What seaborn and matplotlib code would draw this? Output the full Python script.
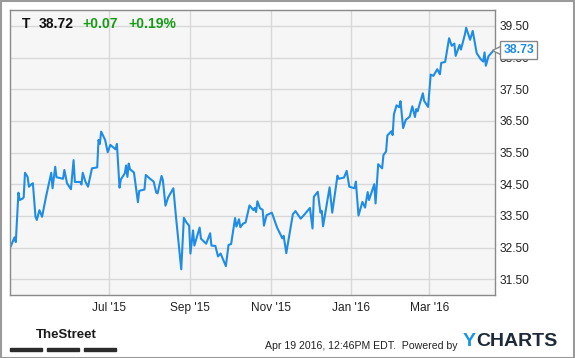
import matplotlib
matplotlib.use("Agg")
import matplotlib.pyplot as plt
from matplotlib.patches import Rectangle
from matplotlib.transforms import blended_transform_factory
import pandas as pd
import seaborn as sns

# ---------------- data ----------------
dates = [
    "2015-04-17", "2015-04-20", "2015-04-21", "2015-04-23", "2015-04-24", "2015-04-26",
    "2015-04-27", "2015-04-28", "2015-04-30", "2015-05-01", "2015-05-03", "2015-05-04",
    "2015-05-06", "2015-05-07", "2015-05-09", "2015-05-11", "2015-05-14", "2015-05-18",
    "2015-05-19", "2015-05-21", "2015-05-22", "2015-05-27", "2015-05-28", "2015-05-30",
    "2015-06-02", "2015-06-04", "2015-06-05", "2015-06-09", "2015-06-10", "2015-06-11",
    "2015-06-13", "2015-06-15", "2015-06-18", "2015-06-22", "2015-06-23", "2015-06-24",
    "2015-06-25", "2015-06-28", "2015-06-30", "2015-07-02", "2015-07-06", "2015-07-07",
    "2015-07-09", "2015-07-10", "2015-07-13", "2015-07-14", "2015-07-15", "2015-07-16",
    "2015-07-17", "2015-07-20", "2015-07-23", "2015-07-24", "2015-07-28", "2015-07-29",
    "2015-08-01", "2015-08-04", "2015-08-06", "2015-08-07", "2015-08-10", "2015-08-11",
    "2015-08-13", "2015-08-15", "2015-08-19", "2015-08-21", "2015-08-25", "2015-08-27",
    "2015-08-29", "2015-08-31", "2015-09-01", "2015-09-03", "2015-09-04", "2015-09-08",
    "2015-09-09", "2015-09-13", "2015-09-16", "2015-09-17", "2015-09-20", "2015-09-22",
    "2015-09-24", "2015-09-28", "2015-09-30", "2015-10-02", "2015-10-05", "2015-10-06",
    "2015-10-08", "2015-10-09", "2015-10-11", "2015-10-13", "2015-10-16", "2015-10-19",
    "2015-10-20", "2015-10-21", "2015-10-22", "2015-10-24", "2015-10-26", "2015-10-27",
    "2015-10-29", "2015-11-02", "2015-11-06", "2015-11-10", "2015-11-11", "2015-11-13",
    "2015-11-18", "2015-11-20", "2015-11-24", "2015-11-27", "2015-12-01", "2015-12-03",
    "2015-12-04", "2015-12-07", "2015-12-09", "2015-12-10", "2015-12-11", "2015-12-16",
    "2015-12-18", "2015-12-22", "2015-12-23", "2015-12-27", "2015-12-29", "2015-12-31",
    "2016-01-04", "2016-01-05", "2016-01-07", "2016-01-10", "2016-01-12", "2016-01-14",
    "2016-01-15", "2016-01-19", "2016-01-20", "2016-01-22", "2016-01-25", "2016-01-26",
    "2016-01-28", "2016-01-29", "2016-02-01", "2016-02-02", "2016-02-03", "2016-02-05",
    "2016-02-07", "2016-02-08", "2016-02-10", "2016-02-12", "2016-02-15", "2016-02-17",
    "2016-02-19", "2016-02-20", "2016-02-21", "2016-02-25", "2016-02-26", "2016-02-29",
    "2016-03-02", "2016-03-04", "2016-03-07", "2016-03-09", "2016-03-10", "2016-03-13",
    "2016-03-16", "2016-03-18", "2016-03-20", "2016-03-21", "2016-03-24", "2016-03-25",
    "2016-03-28", "2016-03-29", "2016-04-01", "2016-04-03", "2016-04-06", "2016-04-09",
    "2016-04-11", "2016-04-12", "2016-04-13", "2016-04-15", "2016-04-19",
]
close = [
    32.52, 32.82, 32.67, 34.23, 34.00, 34.04,
    34.08, 34.86, 34.73, 34.42, 34.50, 34.53,
    33.47, 33.37, 33.68, 33.47, 34.10, 34.86,
    34.37, 35.05, 34.72, 34.67, 34.95, 34.53,
    34.34, 35.26, 34.57, 34.57, 34.49, 34.86,
    34.58, 34.42, 35.00, 35.03, 35.90, 35.77,
    36.16, 35.90, 35.51, 35.74, 35.60, 35.77,
    34.39, 34.65, 34.84, 35.09, 34.73, 35.15,
    34.97, 34.87, 33.93, 34.29, 34.33, 34.79,
    34.68, 34.58, 34.23, 34.21, 34.76, 34.63,
    33.82, 34.08, 34.37, 33.47, 31.81, 33.44,
    33.29, 33.19, 32.31, 33.04, 32.56, 33.13,
    32.78, 32.62, 32.95, 32.56, 32.55, 32.22,
    32.31, 31.91, 32.58, 32.61, 33.43, 33.16,
    33.39, 33.14, 33.25, 33.29, 33.83, 33.68,
    33.75, 33.62, 33.96, 33.74, 33.69, 33.19,
    33.52, 33.60, 33.13, 32.79, 32.87, 32.32,
    33.55, 33.65, 33.41, 33.55, 33.75, 33.10,
    34.10, 34.26, 33.60, 33.66, 33.17, 34.40,
    33.60, 34.77, 34.67, 34.71, 34.92, 34.42,
    34.37, 34.58, 33.51, 33.94, 33.76, 34.25,
    34.00, 34.50, 33.89, 35.13, 35.00, 35.42,
    35.53, 36.04, 36.17, 36.05, 36.71, 36.99,
    36.93, 37.12, 36.27, 36.53, 36.63, 36.96,
    36.62, 36.87, 36.80, 37.37, 37.13, 36.94,
    37.96, 37.92, 38.13, 37.97, 38.33, 38.36,
    39.11, 38.87, 38.94, 38.55, 38.90, 38.75,
    39.22, 39.44, 39.06, 39.34, 38.64, 38.45,
    38.37, 38.66, 38.24, 38.54, 38.73,
]
tick_dates = ["2015-07-01", "2015-09-01", "2015-11-01", "2016-01-01", "2016-03-01"]
tick_labels = ["Jul '15", "Sep '15", "Nov '15", "Jan '16", "Mar '16"]
y_ticks = [31.5, 32.5, 33.5, 34.5, 35.5, 36.5, 37.5, 38.5, 39.5]
ticker = "T"
last_price = "38.72"
change = "+0.07"
change_pct = "+0.19%"
last_label = "38.73"

# ---------------- style ----------------
sns.set_style("white")
plt.rcParams["font.family"] = ["Liberation Sans", "DejaVu Sans"]

LINE = "#1f8de6"
GREEN = "#179b17"
W, H = 575, 358

fig = plt.figure(figsize=(W / 100, H / 100), dpi=100)
ax = fig.add_axes([10 / W, 1 - 295 / H, (494.5 - 10) / W, (295 - 10) / H])
ax.set_facecolor("#f6f6f6")

df = pd.DataFrame({"date": pd.to_datetime(dates), "close": close})
sns.lineplot(data=df, x="date", y="close", ax=ax, color=LINE, linewidth=1.5)

ax.set_xlim(pd.Timestamp("2015-04-16 14:00"), pd.Timestamp("2016-04-19 14:00"))
ax.set_ylim(31.0, 40.0)
ax.set_xticks(pd.to_datetime(tick_dates))
ax.set_xticklabels(tick_labels)
ax.set_yticks(y_ticks)
ax.set_yticklabels([f"{v:.2f}" for v in y_ticks])
ax.yaxis.tick_right()
ax.tick_params(axis="both", length=0, labelsize=8.6, colors="#222222")
ax.tick_params(axis="y", pad=4)
ax.tick_params(axis="x", pad=5)
ax.set_xlabel("")
ax.set_ylabel("")
ax.grid(True, color="#d8d8d8", linewidth=1)
ax.set_axisbelow(True)
for s in ax.spines.values():
    s.set_visible(True)
    s.set_color("#8a8a8a")
    s.set_linewidth(1)

# header
hy = 1 - 23.5 / H
fig.text(22 / W, hy, ticker, fontsize=10, fontweight="bold", color="#111111", va="center")
fig.text(39 / W, hy, last_price, fontsize=10, fontweight="bold", color="#111111", va="center")
fig.text(82.5 / W, hy, change, fontsize=10, fontweight="bold", color=GREEN, va="center")
fig.text(128 / W, hy, change_pct, fontsize=10, fontweight="bold", color=GREEN, va="center")

# last value tag
tr = blended_transform_factory(ax.transAxes, ax.transData)
ax.plot([1.008], [float(last_label)], marker="<", markersize=8, mfc="white",
        mec="#888888", mew=1, transform=tr, clip_on=False, zorder=5)
ax.text(1.018, float(last_label), last_label, transform=tr, fontsize=8.8,
        fontweight="bold", color=LINE, va="center", ha="left", zorder=6,
        bbox=dict(boxstyle="square,pad=0.25", fc="white", ec="#888888", lw=1))

# footer
fig.text(36 / W, 1 - 335 / H, "TheStreet", fontsize=9.5,
         family=["Liberation Sans Narrow", "Liberation Sans", "DejaVu Sans"],
         fontweight="bold", color="#1a1a1a", va="center", ha="left")
for x0, x1 in [(10, 42), (47, 79), (84, 116)]:
    fig.patches.append(Rectangle((x0 / W, 1 - 351 / H), (x1 - x0) / W, 3 / H,
                                 transform=fig.transFigure, color="#2b2b2b"))
fig.text(265 / W, 1 - 346 / H, "Apr 19 2016, 12:46PM EDT.  Powered by",
         fontsize=7.6, color="#222222", va="center", ha="left")
fig.text(463 / W, 1 - 341 / H, "Y", fontsize=14, fontweight="bold",
         color="#1a95e4", va="center", ha="left")
fig.text(476 / W, 1 - 341 / H, "CHARTS", fontsize=14, fontweight="bold",
         color="#1e2a38", va="center", ha="left")

# outer border
fig.patches.append(Rectangle((0.5 / W, 0.5 / H), (W - 1.5) / W, (H - 1.5) / H,
                             transform=fig.transFigure, fill=False,
                             ec="#9a9a9a", lw=1.5))

fig.savefig("out.png", dpi=100)
